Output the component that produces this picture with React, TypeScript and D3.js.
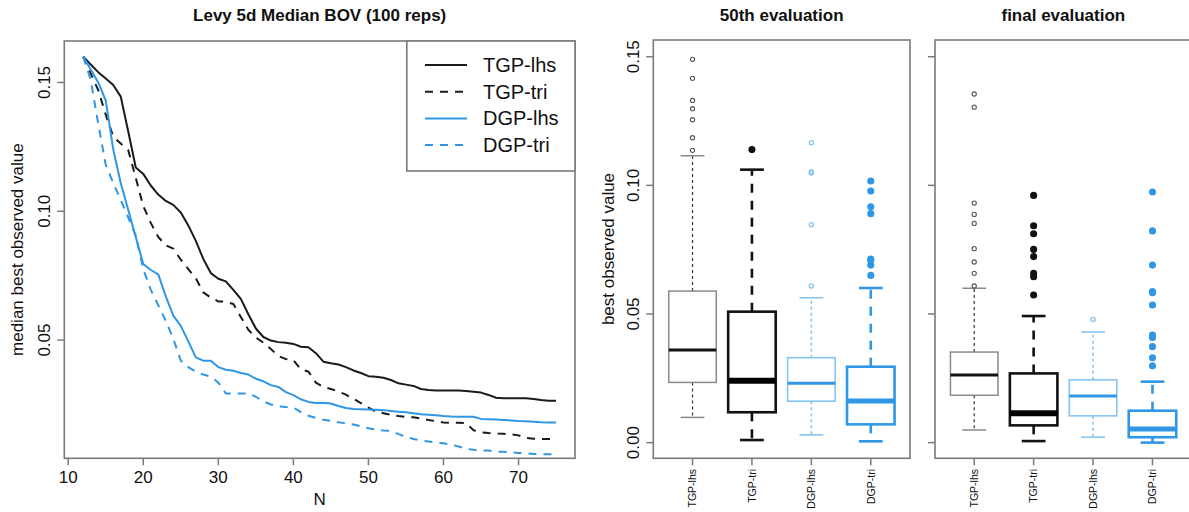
import React from "react";
import * as d3 from "d3";

// ---------- data ----------
const N = [12,13,14,15,16,17,18,19,20,21,22,23,24,25,26,27,28,29,30,31,32,33,34,35,36,37,38,39,40,41,42,43,44,45,46,47,48,49,50,51,52,53,54,55,56,57,58,59,60,61,62,63,64,65,66,67,68,69,70,71,72,73,74,75];

const tgpLhs = [0.160,0.157,0.154,0.1515,0.149,0.1445,0.131,0.117,0.1145,0.110,0.1065,0.104,0.1025,0.0995,0.0945,0.0885,0.0815,0.0760,0.0738,0.0728,0.0695,0.0660,0.0600,0.0545,0.0512,0.0498,0.0492,0.0490,0.0485,0.0474,0.0472,0.0449,0.0416,0.0410,0.0405,0.0395,0.0382,0.0372,0.0360,0.0358,0.0354,0.0345,0.0332,0.0327,0.0322,0.0310,0.0306,0.0304,0.0304,0.0304,0.0304,0.0302,0.0299,0.0296,0.0287,0.0276,0.0274,0.0274,0.0274,0.0274,0.0271,0.0267,0.0264,0.0264];
const tgpTri = [0.160,0.1535,0.147,0.1375,0.129,0.1263,0.1237,0.113,0.102,0.0955,0.090,0.0868,0.0855,0.0812,0.0775,0.0740,0.0685,0.0665,0.0650,0.0649,0.0640,0.0590,0.0540,0.0510,0.0490,0.0465,0.0438,0.0426,0.0422,0.0386,0.0378,0.0335,0.0318,0.0310,0.0300,0.0288,0.0272,0.0255,0.0238,0.0222,0.0216,0.0210,0.0205,0.0202,0.0200,0.0195,0.0190,0.0185,0.0180,0.0179,0.0179,0.0178,0.0150,0.0142,0.0139,0.0137,0.0136,0.0134,0.0130,0.0120,0.0117,0.0116,0.0116,0.0116];
const dgpLhs = [0.160,0.155,0.150,0.1430,0.1240,0.1110,0.1005,0.0900,0.0795,0.0772,0.0755,0.0670,0.0595,0.0555,0.0495,0.0433,0.0420,0.0420,0.0395,0.0385,0.0381,0.0372,0.0366,0.0350,0.0340,0.0325,0.0318,0.0298,0.0286,0.0270,0.0260,0.0256,0.0256,0.0254,0.0244,0.0236,0.0232,0.0231,0.0230,0.0229,0.0228,0.0225,0.0222,0.0220,0.0216,0.0212,0.0210,0.0208,0.0205,0.0203,0.0202,0.0202,0.0202,0.0194,0.0193,0.0192,0.0190,0.0188,0.0186,0.0185,0.0183,0.0181,0.0180,0.0180];
const dgpTri = [0.160,0.151,0.134,0.118,0.111,0.1044,0.0975,0.0905,0.0775,0.0695,0.0635,0.0575,0.0505,0.0420,0.0395,0.0377,0.0366,0.0358,0.0335,0.0293,0.0293,0.0293,0.0293,0.0280,0.0262,0.0250,0.0243,0.0240,0.0238,0.0220,0.0206,0.0198,0.0191,0.0186,0.0181,0.0177,0.0172,0.0165,0.0158,0.0152,0.0149,0.0147,0.0135,0.0125,0.0116,0.0110,0.0106,0.0102,0.0099,0.0094,0.0087,0.0078,0.0074,0.0072,0.0071,0.0067,0.0066,0.0064,0.0062,0.0060,0.0058,0.0057,0.0057,0.0057];

const seriesNames = ["TGP-lhs", "TGP-tri", "DGP-lhs", "DGP-tri"];
const xTicks = [10, 20, 30, 40, 50, 60, 70];
const yTicksLeft = [0.05, 0.10, 0.15];
const yTicksBox = [0.00, 0.05, 0.10, 0.15];

// boxplot stats: [lower whisker, q1, median, q3, upper whisker]
const stats50 = [
  [0.0098, 0.0234, 0.0360, 0.0589, 0.1115],
  [0.0010, 0.0118, 0.0240, 0.0509, 0.1061],
  [0.0030, 0.0161, 0.0231, 0.0330, 0.0563],
  [0.0005, 0.0071, 0.0162, 0.0295, 0.0601],
];
const outliers50 = [
  [0.149, 0.1416, 0.133, 0.1298, 0.1255, 0.1185, 0.1136],
  [0.1139],
  [0.1166, 0.1053, 0.1048, 0.0847, 0.0609],
  [0.1017, 0.0978, 0.0917, 0.089, 0.0714, 0.0709, 0.069, 0.065],
];
const statsFinal = [
  [0.0049, 0.0184, 0.0263, 0.0352, 0.0600],
  [0.0006, 0.0067, 0.0114, 0.0269, 0.0492],
  [0.0021, 0.0104, 0.0181, 0.0244, 0.0430],
  [0.0000, 0.0021, 0.0053, 0.0124, 0.0237],
];
const outliersFinal = [
  [0.1355, 0.1304, 0.0931, 0.0887, 0.0852, 0.0754, 0.0702, 0.0658, 0.0609],
  [0.0961, 0.0843, 0.0812, 0.0751, 0.0723, 0.0658, 0.0645, 0.0574],
  [0.0479],
  [0.0974, 0.0823, 0.069, 0.0587, 0.0583, 0.0535, 0.0418, 0.0409, 0.0373, 0.033, 0.0299],
];

// ---------- styles ----------
const FONT = "'Liberation Sans', Arial, Helvetica, sans-serif";
const BLUE = "#2f97e6";
const LIGHTBLUE = "#86c5f2";
const FRAME = "#7a7a7a";
const lineStyles = [
  { color: "#1a1a1a", dash: null },
  { color: "#1a1a1a", dash: "8,7" },
  { color: BLUE, dash: null },
  { color: BLUE, dash: "8,7" },
];
const boxStyles = [
  { box: "#8a8a8a", boxW: 1.5, med: "#111", medW: 3, wh: "#333", whW: 1.2, dash: "3,3", st: "#8a8a8a", stW: 1.5, pt: "#555", ptW: 1.1, r: 2.1, fill: "none" },
  { box: "#111", boxW: 2.6, med: "#000", medW: 6, wh: "#111", whW: 2.6, dash: "9,8", st: "#111", stW: 2.6, pt: "#111", ptW: 1.5, r: 2.8, fill: "#111" },
  { box: LIGHTBLUE, boxW: 1.6, med: BLUE, medW: 3, wh: LIGHTBLUE, whW: 1.6, dash: "3,3", st: LIGHTBLUE, stW: 1.6, pt: LIGHTBLUE, ptW: 1.3, r: 2.1, fill: "none" },
  { box: BLUE, boxW: 2.6, med: BLUE, medW: 5, wh: BLUE, whW: 2.6, dash: "9,8", st: BLUE, stW: 2.6, pt: BLUE, ptW: 1.5, r: 2.8, fill: BLUE },
];

// ---------- scales ----------
const L = { x0: 64.3, x1: 575, y0: 41, y1: 458.3 };
const xL = d3.scaleLinear().domain([9.48, 77.52]).range([L.x0, L.x1]);
const yL = d3.scaleLinear().domain([0.0041, 0.1661]).range([L.y1, L.y0]);
const yB = d3.scaleLinear().domain([-0.0061, 0.1565]).range([458.3, 40]);

const TICK = 7;

function RotLabel({ x, y, text, size, anchor = "middle", weight = "normal" }) {
  const bx = x + size * 0.36;
  return (
    <text x={bx} y={y} transform={`rotate(-90, ${bx}, ${y})`} textAnchor={anchor}
      fontSize={size} fontFamily={FONT} fontWeight={weight} fill="#111">{text}</text>
  );
}

function LinePanel() {
  const all = [tgpLhs, tgpTri, dgpLhs, dgpTri];
  const line = d3.line().x((d) => xL(d[0])).y((d) => yL(d[1]));
  return (
    <g>
      <text x={(L.x0 + L.x1) / 2} y={21} textAnchor="middle" fontSize={17} fontWeight="bold" fontFamily={FONT} fill="#111">Levy 5d Median BOV (100 reps)</text>
      {all.map((vals, i) => (
        <path key={i} d={line(N.map((n, j) => [n, vals[j]]))} fill="none" stroke={lineStyles[i].color}
          strokeWidth={2} strokeDasharray={lineStyles[i].dash || undefined} strokeLinejoin="round" />
      ))}
      <rect x={L.x0} y={L.y0} width={L.x1 - L.x0} height={L.y1 - L.y0} fill="none" stroke={FRAME} strokeWidth={1.6} />
      {xTicks.map((t) => (
        <g key={t}>
          <line x1={xL(t)} x2={xL(t)} y1={L.y1} y2={L.y1 + TICK} stroke={FRAME} strokeWidth={1.5} />
          <text x={xL(t)} y={483} textAnchor="middle" fontSize={17} fontFamily={FONT} fill="#111">{t}</text>
        </g>
      ))}
      <text x={(L.x0 + L.x1) / 2} y={505} textAnchor="middle" fontSize={17} fontFamily={FONT} fill="#111">N</text>
      {yTicksLeft.map((t) => (
        <g key={t}>
          <line x1={L.x0 - TICK} x2={L.x0} y1={yL(t)} y2={yL(t)} stroke={FRAME} strokeWidth={1.5} />
          <RotLabel x={44} y={yL(t)} text={t.toFixed(2)} size={17} />
        </g>
      ))}
      <RotLabel x={17} y={(L.y0 + L.y1) / 2} text="median best observed value" size={17} />
      <rect x={406.8} y={L.y0} width={L.x1 - 406.8} height={130} fill="white" stroke={FRAME} strokeWidth={1.6} />
      {seriesNames.map((s, i) => {
        const yy = 65 + i * 26.7;
        return (
          <g key={s}>
            <line x1={425} x2={467} y1={yy} y2={yy} stroke={lineStyles[i].color} strokeWidth={2}
              strokeDasharray={lineStyles[i].dash || undefined} />
            <text x={483} y={yy + 7} fontSize={20} fontFamily={FONT} fill="#111">{s}</text>
          </g>
        );
      })}
    </g>
  );
}

function BoxPanel({ x0, x1, title, stats, outs, showLabels }) {
  const xB = d3.scaleLinear().domain([0.34, 4.66]).range([x0, x1]);
  const hw = xB(1.4) - xB(1);
  return (
    <g>
      <text x={(x0 + x1) / 2} y={21} textAnchor="middle" fontSize={17} fontWeight="bold" fontFamily={FONT} fill="#111">{title}</text>
      {stats.map((s, i) => {
        const st = boxStyles[i];
        const cx = xB(i + 1);
        const [lo, q1, med, q3, hi] = s;
        return (
          <g key={i}>
            <line x1={cx} x2={cx} y1={yB(q3)} y2={yB(hi)} stroke={st.wh} strokeWidth={st.whW} strokeDasharray={st.dash} />
            <line x1={cx} x2={cx} y1={yB(q1)} y2={yB(lo)} stroke={st.wh} strokeWidth={st.whW} strokeDasharray={st.dash} />
            <line x1={cx - hw / 2} x2={cx + hw / 2} y1={yB(hi)} y2={yB(hi)} stroke={st.st} strokeWidth={st.stW} />
            <line x1={cx - hw / 2} x2={cx + hw / 2} y1={yB(lo)} y2={yB(lo)} stroke={st.st} strokeWidth={st.stW} />
            <rect x={cx - hw} y={yB(q3)} width={2 * hw} height={yB(q1) - yB(q3)} fill="white" stroke={st.box} strokeWidth={st.boxW} />
            <line x1={cx - hw} x2={cx + hw} y1={yB(med)} y2={yB(med)} stroke={st.med} strokeWidth={st.medW} />
            {outs[i].map((o, k) => (
              <circle key={k} cx={cx} cy={yB(o)} r={st.r} fill={st.fill} stroke={st.pt} strokeWidth={st.ptW} />
            ))}
          </g>
        );
      })}
      <rect x={x0} y={40} width={x1 - x0} height={458.3 - 40} fill="none" stroke={FRAME} strokeWidth={1.6} />
      {yTicksBox.map((t) => (
        <g key={t}>
          <line x1={x0 - TICK} x2={x0} y1={yB(t)} y2={yB(t)} stroke={FRAME} strokeWidth={1.5} />
          {showLabels && <RotLabel x={x0 - 20} y={yB(t)} text={t.toFixed(2)} size={17} />}
        </g>
      ))}
      {showLabels && <RotLabel x={x0 - 45} y={249} text="best observed value" size={17} />}
      {seriesNames.map((s, i) => (
        <g key={s}>
          <line x1={xB(i + 1)} x2={xB(i + 1)} y1={458.3} y2={458.3 + TICK} stroke={FRAME} strokeWidth={1.5} />
          <RotLabel x={xB(i + 1)} y={469} text={s} size={10.5} anchor="end" />
        </g>
      ))}
    </g>
  );
}

export default function App() {
  return (
    <svg width={1189} height={512} style={{ position: "absolute", left: 0, top: 0, background: "white" }}>
      <rect width={1189} height={512} fill="white" />
      <LinePanel />
      <BoxPanel x0={653.3} x1={910} title="50th evaluation" stats={stats50} outs={outliers50} showLabels={true} />
      <BoxPanel x0={935} x1={1191.7} title="final evaluation" stats={statsFinal} outs={outliersFinal} showLabels={false} />
    </svg>
  );
}
